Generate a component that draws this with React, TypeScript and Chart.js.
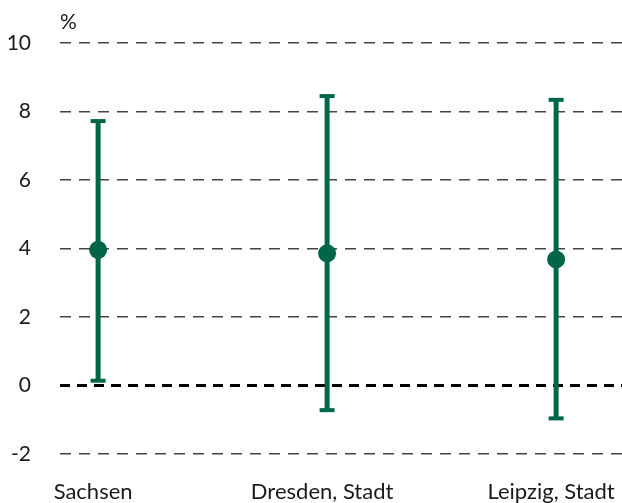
import React, { useEffect, useRef } from 'react';
import { Chart, registerables } from 'chart.js';

Chart.register(...registerables);

const categories = ['Sachsen', 'Dresden, Stadt', 'Leipzig, Stadt'];
const estimates = [3.96, 3.86, 3.68];
const lowerBounds = [0.14, -0.72, -0.96];
const upperBounds = [7.72, 8.45, 8.34];
const yTicks = [-2, 0, 2, 4, 6, 8, 10];
const unitLabel = '%';

const GREEN = '#00664a';
const FONT = 'Lato, "Open Sans", sans-serif';

const unitPlugin = {
  id: 'unitLabel',
  afterDraw(chart: any) {
    const { ctx, chartArea } = chart;
    ctx.save();
    ctx.font = `21px ${FONT}`;
    ctx.fillStyle = '#1a1a1a';
    ctx.textAlign = 'left';
    ctx.textBaseline = 'middle';
    ctx.fillText(unitLabel, chartArea.left, 22);
    ctx.restore();
  },
};

const zeroPad = (s: any) => {
  s.paddingLeft = 0;
  s.paddingRight = 0;
  s.paddingTop = 0;
  s.paddingBottom = 0;
};

export default function App() {
  const ref = useRef<HTMLCanvasElement>(null);

  useEffect(() => {
    if (!ref.current) return;
    const errorSets = categories.map((c, i) => ({
      type: 'line' as const,
      label: c,
      data: [
        { x: i, y: lowerBounds[i] },
        { x: i, y: upperBounds[i] },
      ],
      borderColor: GREEN,
      backgroundColor: GREEN,
      borderWidth: 5,
      pointStyle: 'line' as const,
      pointRadius: 7.5,
      pointBorderWidth: 4,
      pointBorderColor: GREEN,
      pointHoverRadius: 7.5,
      clip: false,
    }));
    const chart = new Chart(ref.current, {
      type: 'scatter',
      data: {
        datasets: [
          ...errorSets,
          {
            type: 'scatter' as const,
            label: 'Schätzwert',
            data: estimates.map((v, i) => ({ x: i, y: v })),
            backgroundColor: GREEN,
            borderColor: GREEN,
            pointRadius: 9,
            pointHoverRadius: 9,
            borderWidth: 0,
            clip: false,
          },
        ] as any,
      },
      options: {
        animation: false,
        responsive: false,
        maintainAspectRatio: false,
        layout: { autoPadding: false, padding: { top: 43, left: 0, right: 0, bottom: 0 } },
        plugins: {
          legend: { display: false },
          tooltip: { enabled: false },
          title: { display: false },
        },
        scales: {
          x: {
            type: 'linear',
            min: -0.1664,
            max: 2.2877,
            grid: { display: false },
            border: { display: false },
            afterBuildTicks: (s: any) => {
              s.ticks = categories.map((_, i) => ({ value: i }));
            },
            afterFit: (s: any) => {
              s.height = 49;
              zeroPad(s);
            },
            ticks: {
              autoSkip: false,
              maxRotation: 0,
              padding: 17,
              labelOffset: -5,
              color: '#1a1a1a',
              font: { family: FONT, size: 22 },
              callback: (v: any) => categories[v as number] ?? '',
            },
          },
          y: {
            min: -2,
            max: 10,
            afterBuildTicks: (s: any) => {
              s.ticks = yTicks.map((v) => ({ value: v }));
            },
            afterFit: (s: any) => {
              s.width = 60;
              zeroPad(s);
            },
            grid: {
              drawTicks: false,
              color: (c: any) => (c.tick && c.tick.value === 0 ? '#000000' : '#444444'),
              lineWidth: (c: any) => (c.tick && c.tick.value === 0 ? 3 : 1.5),
            },
            border: {
              display: false,
              dash: (c: any) => (c.tick && c.tick.value === 0 ? [10, 7] : [11, 8]),
            } as any,
            ticks: {
              padding: 29,
              color: '#1a1a1a',
              font: { family: FONT, size: 21 },
              callback: (v: any) => String(v),
            },
          },
        },
      },
      plugins: [unitPlugin],
    });
    return () => chart.destroy();
  }, []);

  return (
    <div style={{ position: 'absolute', left: 0, top: 0, width: 622, height: 503, background: '#fff' }}>
      <canvas ref={ref} width={622} height={503} style={{ width: 622, height: 503 }} />
    </div>
  );
}
